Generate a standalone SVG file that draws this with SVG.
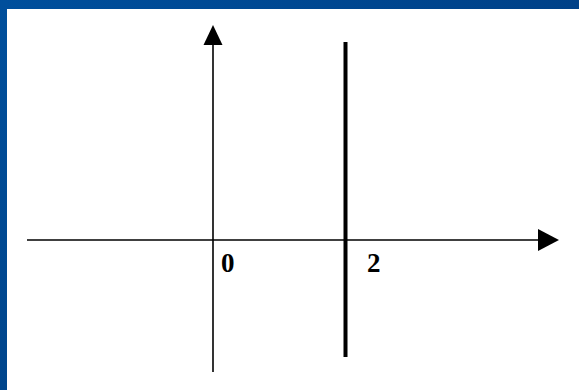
<svg xmlns="http://www.w3.org/2000/svg" width="579" height="390" viewBox="0 0 579 390">
  <defs>
    <linearGradient id="topbar" x1="0" y1="0" x2="1" y2="0">
      <stop offset="0" stop-color="#004f9c"/>
      <stop offset="1" stop-color="#004188"/>
    </linearGradient>
    <linearGradient id="sidebar" x1="0" y1="0" x2="0" y2="1">
      <stop offset="0" stop-color="#004f9c"/>
      <stop offset="1" stop-color="#00458c"/>
    </linearGradient>
    <style>
      .axis { stroke: #000; stroke-width: 1.6; fill: none; }
      .thick { stroke: #000; stroke-width: 4; fill: none; }
      .head { fill: #000; }
      .lbl { font-family: "Liberation Serif", "Times New Roman", serif; font-weight: bold; font-size: 27px; fill: #000; }
    </style>
  </defs>
  <rect x="0" y="0" width="579" height="390" fill="#fff"/>
  <rect x="0" y="0" width="579" height="9" fill="url(#topbar)"/>
  <rect x="0" y="0" width="7" height="390" fill="url(#sidebar)"/>
  <g id="connectors">
    <line class="axis" x1="27" y1="240" x2="540" y2="240"/>
    <polygon class="head" points="538,229 559,240 538,251"/>
    <line class="axis" x1="213" y1="43" x2="213" y2="372"/>
    <polygon class="head" points="213,25 203.5,45 222.5,45"/>
    <line class="thick" x1="345.5" y1="42" x2="345.5" y2="357"/>
  </g>
  <g id="label-0">
    <text class="lbl" x="221" y="272">0</text>
  </g>
  <g id="label-2">
    <text class="lbl" x="367" y="272">2</text>
  </g>
</svg>
